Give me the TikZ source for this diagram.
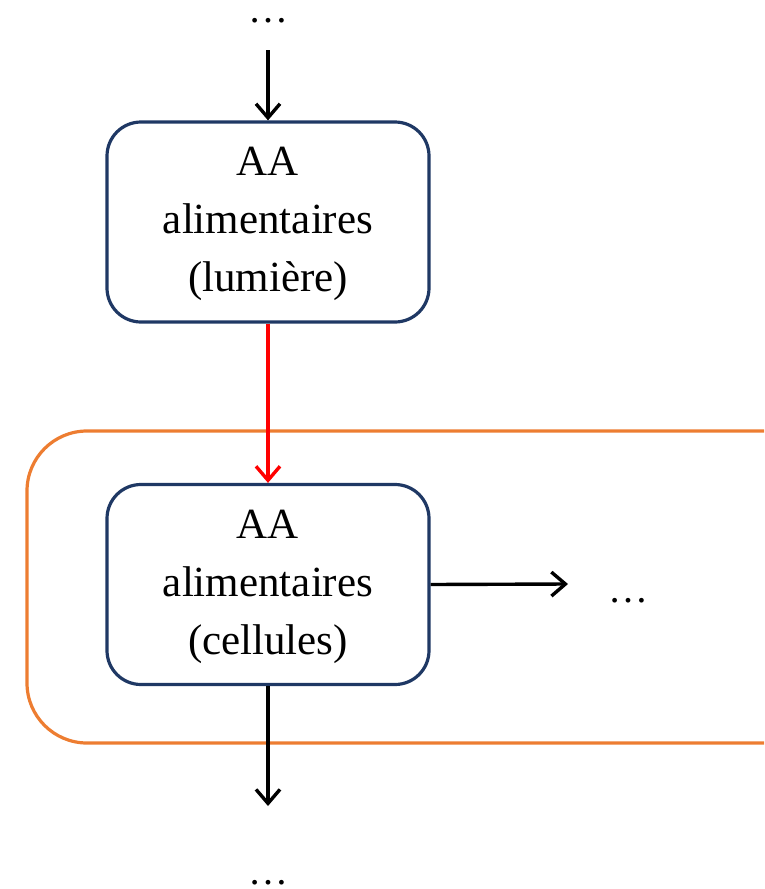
\documentclass[tikz,border=0pt]{standalone}
\usepackage{fontspec}
\setmainfont{Liberation Serif}
\usetikzlibrary{arrows.meta}
\definecolor{boxblue}{HTML}{1F3864}
\definecolor{grporange}{HTML}{ED7D31}
\newcommand{\boxtext}[1]{\raisebox{-6pt}{\begin{tabular}{@{}c@{}}#1\end{tabular}}}
\begin{document}
\begin{tikzpicture}[x=1pt,y=-1pt,
  aabox/.style={draw=boxblue,line width=3.2pt,rounded corners=34pt,minimum width=322pt,minimum height=200pt,
     font=\fontsize{43}{58}\selectfont,inner sep=0pt},
  dots/.style={font=\fontsize{40}{46}\selectfont,inner sep=0pt,text height=4pt,text depth=0pt},
  conn/.style={line width=3.4pt,-{Straight Barb[length=14pt,width=24pt,line width=3.4pt]}}]
\useasboundingbox (0,0) rectangle (764,889);
\clip (0,0) rectangle (764,889);
\draw[grporange,line width=3.2pt,rounded corners=60pt] (27,431) rectangle (830,743);
\node[aabox] (b1) at (268,222) {\boxtext{AA\\alimentaires\\(lumière)}};
\node[aabox] (b2) at (268,584.5) {\boxtext{AA\\alimentaires\\(cellules)}};
\node[dots] (t) at (268,20) {\dots};
\coordinate (ts) at (268,50);
\node[dots] (r) at (628,600) {\dots};
\coordinate (re) at (568,584);
\node[dots] (bt) at (268,882) {\dots};
\coordinate (be) at (268,806);
\draw[conn] (ts) -- (b1.north);
\draw[conn,red] (b1.south) -- (b2.north);
\draw[conn] (b2.east) -- (re);
\draw[conn] (b2.south) -- (be);
\end{tikzpicture}
\end{document}
